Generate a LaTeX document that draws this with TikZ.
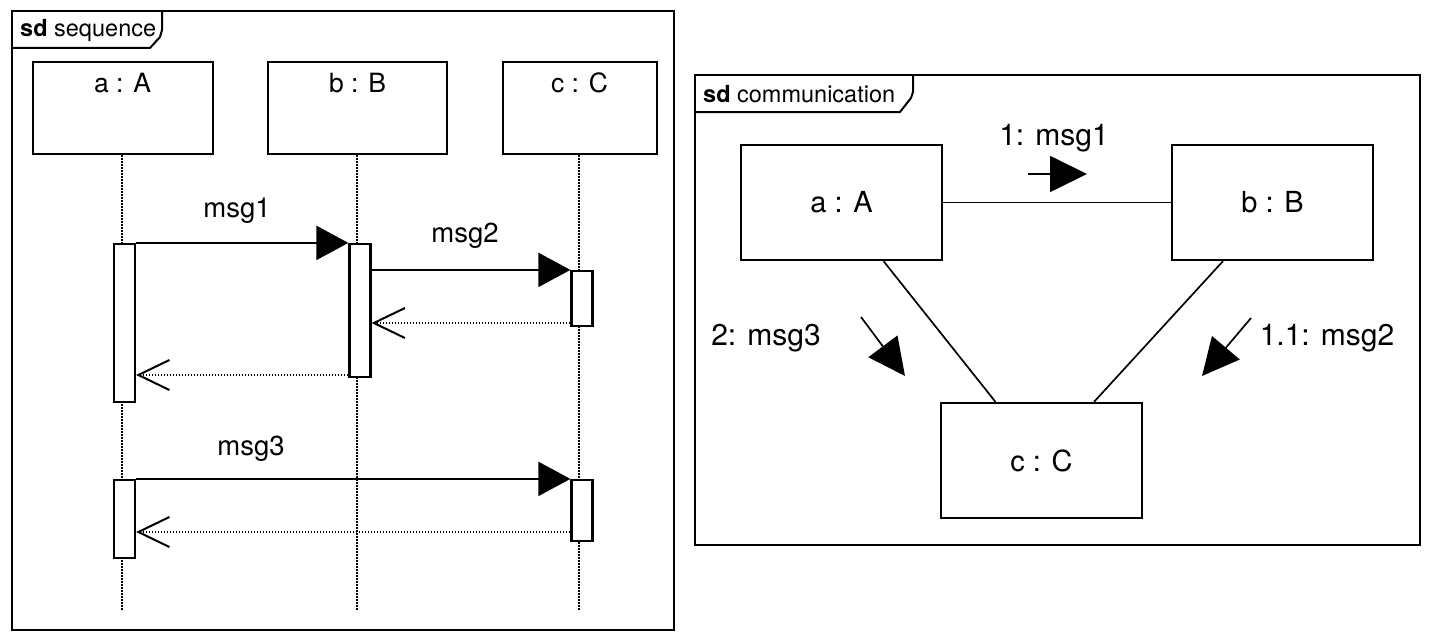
\documentclass[tikz,border=0pt]{standalone}
\usepackage{fontspec}
\setmainfont{TeX Gyre Heros}
\usetikzlibrary{arrows.meta}
\begin{document}
\begin{tikzpicture}[x=1pt,y=-1pt,
  frameline/.style={draw, line width=2pt},
  tabtext/.style={anchor=base west, inner sep=0pt, font=\fontsize{23.5}{27}\selectfont},
  lifebox/.style={draw, line width=2.2pt, fill=white, inner sep=0pt, minimum height=92pt},
  lifetext/.style={inner sep=0pt, font=\fontsize{26.5}{30}\selectfont},
  lifeline/.style={line width=1.8pt, dash pattern=on 1.5pt off 1.5pt},
  actbar/.style={draw, line width=2.2pt, fill=white, inner sep=0pt, minimum width=21pt},
  callmsg/.style={line width=2pt, -{Triangle[length=32pt,width=34pt]}},
  retmsg/.style={line width=1.9pt, dash pattern=on 1.6pt off 1.4pt, -{Straight Barb[length=31pt,width=30pt,line width=2pt]}},
  msgtext/.style={inner sep=0pt, font=\fontsize{27.5}{32}\selectfont},
  commbox/.style={draw, line width=2.2pt, fill=white, inner sep=0pt, minimum width=201pt, minimum height=115pt, font=\fontsize{29}{34}\selectfont},
  commline/.style={line width=1.7pt},
  commarrow/.style={line width=1.7pt, -{Triangle[length=37pt,width=36pt]}},
  commtext/.style={inner sep=0pt, font=\fontsize{30}{35}\selectfont}
]
\useasboundingbox (0,0) rectangle (1434,642);
\fill[white] (0,0) rectangle (1434,642);

% ---------------- sequence frame ----------------
\draw[frameline] (12,11) rectangle (674,630);
\draw[frameline] (12,48) -- (150,48) -- (160,37) -- (162,30) -- (162,11);
\node[tabtext] (seqtab) at (20,37) {\textbf{sd} sequence};

\node[lifebox, minimum width=180pt] (sa) at (123,108) {};
\node[lifebox, minimum width=179pt] (sb) at (357.5,108) {};
\node[lifebox, minimum width=154pt] (sc) at (580,108) {};
\node[lifetext] (saT) at (122.5,83) {a : A};
\node[lifetext] (sbT) at (357.5,83) {b : B};
\node[lifetext] (scT) at (579.5,83) {c : C};

\coordinate (aEnd) at (122,610);
\coordinate (bEnd) at (357,610);
\coordinate (cEnd) at (579,610);
\draw[lifeline] (sa.south -| aEnd) -- (aEnd);
\draw[lifeline] (sb.south -| bEnd) -- (bEnd);
\draw[lifeline] (sc.south -| cEnd) -- (cEnd);

\node[actbar, minimum height=158pt] (a1) at (124.5,323) {};
\node[actbar, minimum height=133pt] (b1) at (360,310.5) {};
\node[actbar, minimum height=55pt]  (c1) at (582,298.5) {};
\node[actbar, minimum height=78pt]  (a2) at (124.5,519) {};
\node[actbar, minimum height=61pt]  (c2) at (582,510.5) {};

\draw[callmsg] (a1.north east) -- (b1.north west);
\draw[callmsg] (b1.east |- c1.north) -- (c1.north west);
\coordinate (r1) at (0,323);
\draw[retmsg] (c1.west |- r1) -- (b1.east |- r1);
\coordinate (r2) at (0,375);
\draw[retmsg] (b1.west |- r2) -- (a1.east |- r2);
\draw[callmsg] (a2.north east) -- (c2.north west);
\coordinate (r3) at (0,532);
\draw[retmsg] (c2.west |- r3) -- (a2.east |- r3);

\node[msgtext] (m1T) at (237,211) {msg1};
\node[msgtext] (m2T) at (465,236) {msg2};
\node[msgtext] (m3T) at (251,449) {msg3};

% ---------------- communication frame ----------------
\draw[frameline] (695,75) rectangle (1420,545);
\draw[frameline] (695,112) -- (900,112) -- (911,98) -- (913,92) -- (913,75);
\node[tabtext] (comtab) at (703,102) {\textbf{sd} communication};

\node[commbox] (ca) at (841.5,202.5) {a : A};
\node[commbox] (cb) at (1272.5,202.5) {b : B};
\node[commbox] (cc) at (1041.5,460.5) {c : C};

\draw[commline] (ca.east) -- (cb.west);
\draw[commline] ([xshift=42pt]ca.south) -- ([xshift=-46pt]cc.north);
\draw[commline] ([xshift=-49.5pt]cb.south) -- ([xshift=52.5pt]cc.north);

\coordinate (k1s) at (1028,174);
\coordinate (k1e) at (1087,174);
\draw[commarrow] (k1s) -- (k1e);
\node[commtext] (k1T) at (1054,138) {1: msg1};

\coordinate (k3s) at (861,317);
\coordinate (k3e) at (905,376);
\draw[commarrow] (k3s) -- (k3e);
\node[commtext] (k3T) at (766,338) {2: msg3};

\coordinate (k2s) at (1251,318);
\coordinate (k2e) at (1202,376);
\draw[commarrow] (k2s) -- (k2e);
\node[commtext] (k2T) at (1327,338) {1.1: msg2};
\end{tikzpicture}
\end{document}
